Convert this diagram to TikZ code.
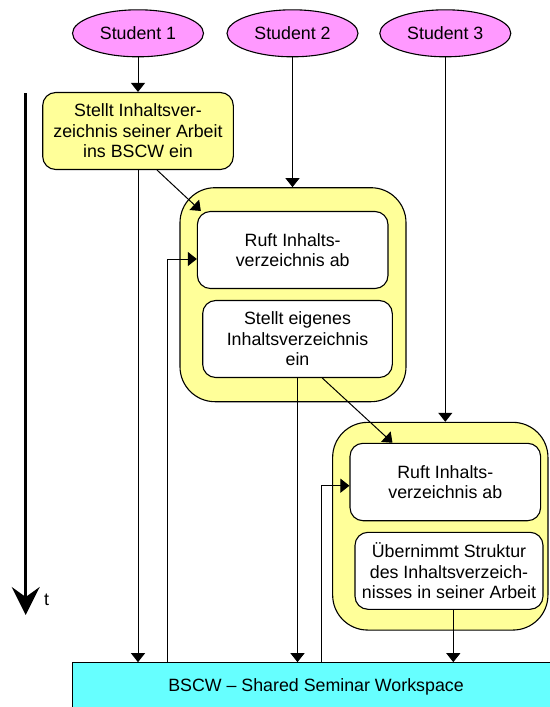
\documentclass[tikz,border=0pt]{standalone}
\usepackage{fontspec}
\setmainfont{Liberation Sans}
\usetikzlibrary{shapes.geometric,arrows.meta}
\definecolor{paleyellow}{HTML}{FFFF99}
\definecolor{palemagenta}{HTML}{FF99FF}
\definecolor{palecyan}{HTML}{66FFFF}

\begin{document}
\begin{tikzpicture}[x=1pt,y=-1pt,
  every node/.style={font=\fontsize{17.8pt}{20.6pt}\selectfont, inner sep=0pt, align=center},
  student/.style={ellipse,draw,line width=1.1pt,fill=palemagenta,minimum width=131pt,minimum height=47pt},
  task/.style={rectangle,rounded corners=13pt,draw,line width=1.1pt,minimum width=190.6pt,minimum height=77pt},
  group/.style={rectangle,rounded corners=35pt,draw,line width=1.1pt,fill=paleyellow},
  flow/.style={line width=1pt,-{Triangle[width=14pt,length=9pt]}}]

\useasboundingbox (0,0) rectangle (549,707);

\path (138,33.3) node[student] (s1) {Student 1}
      (292.5,33.3) node[student] (s2) {Student 2}
      (445.3,33.3) node[student] (s3) {Student 3};

\path (293,294.7) node[group,minimum width=226pt,minimum height=214pt] (g2) {}
      (440.3,526.2) node[group,minimum width=215.3pt,minimum height=207.7pt] (g3) {};

\path (138,131) node[task,fill=paleyellow] (box1) {Stellt Inhaltsver-\\zeichnis seiner Arbeit\\ins BSCW ein}
      (292.7,250) node[task,fill=white] (ruft2) {Ruft Inhalts-\\verzeichnis ab}
      (297.5,339) node[task,fill=white,minimum width=189.6pt] (stellt2) {Stellt eigenes\\Inhaltsverzeichnis\\ein}
      (445.3,482) node[task,fill=white,minimum height=77.4pt] (ruft3) {Ruft Inhalts-\\verzeichnis ab}
      (449,570.8) node[task,fill=white,minimum width=188pt] (uebernimmt3) {Übernimmt Struktur\\des Inhaltsverzeich-\\nisses in seiner Arbeit};

\node[rectangle,draw,line width=1.1pt,fill=palecyan,minimum width=486.6pt,minimum height=48.6pt] (ws) at (316,687) {BSCW – Shared Seminar Workspace};

\coordinate (t0) at (25.7,93);
\coordinate (t1) at (25.7,615);
\draw[line width=2.5pt,-{Stealth[width=28pt,length=28pt,inset=10pt]}] (t0) -- (t1);
\node (tlabel) at (46.7,600) {t};

\draw[flow] (s1.south) -- (box1.north);
\draw[flow] (s2.south) -- (s2.south |- g2.north);
\draw[flow] (s3.south) -- (s3.south |- g3.north);
\draw[flow] (box1.south) -- (box1.south |- ws.north);
\draw[flow] ([xshift=19pt]box1.south) -- ([xshift=4pt]ruft2.north west);
\draw[flow] ([xshift=95.3pt]ws.north west) |- ([yshift=-9pt]ruft2.west);
\draw[flow] (stellt2.south) -- (stellt2.south |- ws.north);
\draw[flow] ([xshift=24.8pt]stellt2.south) -- ([xshift=43pt]ruft3.north west);
\draw[flow] ([xshift=249.6pt]ws.north west) |- ([yshift=-3.7pt]ruft3.west);
\draw[flow] ([xshift=4.3pt]uebernimmt3.south) -- ([xshift=4.3pt]uebernimmt3.south |- ws.north);
\end{tikzpicture}
\end{document}
